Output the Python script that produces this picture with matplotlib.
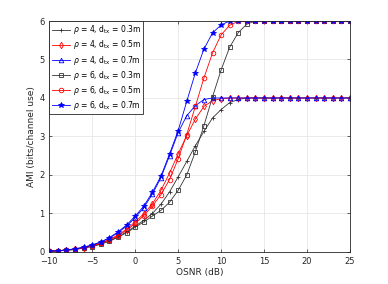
import numpy as np
import matplotlib
matplotlib.use("Agg")
import matplotlib.pyplot as plt

osnr = np.arange(-10, 26)

# AMI values, one per dB from -10 to 25
rho4_03 = [0.02, 0.03, 0.04, 0.07, 0.10, 0.15, 0.21, 0.29, 0.39, 0.52,
           0.67, 0.82, 1.00, 1.24, 1.56, 1.95, 2.35, 2.76, 3.13, 3.48,
           3.70, 3.88, 3.96, 4.00] + [4.00] * 12
rho4_05 = [0.02, 0.03, 0.05, 0.07, 0.11, 0.16, 0.23, 0.32, 0.44, 0.59,
           0.78, 0.99, 1.25, 1.60, 2.05, 2.55, 3.02, 3.45, 3.78, 3.93,
           3.98, 4.00] + [4.00] * 14
rho4_07 = [0.02, 0.03, 0.05, 0.08, 0.12, 0.18, 0.25, 0.36, 0.50, 0.67,
           0.89, 1.15, 1.50, 1.93, 2.50, 3.10, 3.54, 3.80, 3.96, 4.00] + [4.00] * 16
rho6_03 = [0.02, 0.03, 0.04, 0.06, 0.10, 0.14, 0.20, 0.28, 0.38, 0.50,
           0.64, 0.78, 0.93, 1.08, 1.29, 1.60, 2.00, 2.60, 3.28, 4.03,
           4.73, 5.32, 5.70, 5.92, 6.00] + [6.00] * 11
rho6_05 = [0.02, 0.03, 0.05, 0.07, 0.11, 0.16, 0.22, 0.31, 0.42, 0.56,
           0.74, 0.94, 1.19, 1.49, 1.88, 2.42, 3.05, 3.78, 4.52, 5.17,
           5.64, 5.89, 5.99, 6.00] + [6.00] * 12
rho6_07 = [0.02, 0.03, 0.05, 0.08, 0.12, 0.18, 0.26, 0.37, 0.52, 0.70,
           0.93, 1.19, 1.55, 1.97, 2.55, 3.15, 3.91, 4.65, 5.27, 5.69,
           5.90, 6.00] + [6.00] * 14

series = [rho4_03, rho4_05, rho4_07, rho6_03, rho6_05, rho6_07]
labels = [r"$\rho$ = 4, d$_{\mathrm{tx}}$ = 0.3m",
          r"$\rho$ = 4, d$_{\mathrm{tx}}$ = 0.5m",
          r"$\rho$ = 4, d$_{\mathrm{tx}}$ = 0.7m",
          r"$\rho$ = 6, d$_{\mathrm{tx}}$ = 0.3m",
          r"$\rho$ = 6, d$_{\mathrm{tx}}$ = 0.5m",
          r"$\rho$ = 6, d$_{\mathrm{tx}}$ = 0.7m"]
colors = ["#333333", "red", "blue", "#333333", "red", "blue"]
markers = ["+", "d", "^", "s", "o", "*"]
filled = [True, False, False, False, False, True]

fig = plt.figure(figsize=(3.88, 2.84), dpi=100)
ax = fig.add_axes([0.127, 0.113, 0.775, 0.813])

for y, lab, c, m, f in zip(series, labels, colors, markers, filled):
    ax.plot(osnr, y, color=c, marker=m, lw=0.6, ms=3.3 if m != "*" else 4.3,
            mfc=c if f else "none", mec=c, mew=0.6, label=lab)

ax.set_xlim(-10, 25)
ax.set_ylim(0, 6)
ax.set_xticks(np.arange(-10, 26, 5))
ax.set_yticks(np.arange(0, 7, 1))
ax.grid(True, color="#e6e6e6", lw=0.6)
ax.set_axisbelow(True)
ax.tick_params(direction="in", length=2.5, width=0.5, labelsize=6,
               top=True, right=True, colors="#262626", pad=3.5)
for s in ax.spines.values():
    s.set_linewidth(0.6)
    s.set_color("#262626")

ax.set_xlabel("OSNR (dB)", fontsize=6.5, color="#262626", labelpad=1.5)
ax.set_ylabel("AMI (bits/channel use)", fontsize=6.5, color="#262626", labelpad=2)

leg = ax.legend(loc="upper left", borderaxespad=0, fontsize=5.5, fancybox=False,
                edgecolor="#262626", framealpha=1, handlelength=2.4,
                labelspacing=0.28, borderpad=0.3, handletextpad=0.4)
leg.get_frame().set_linewidth(0.6)

fig.savefig("out.png", dpi=100)
